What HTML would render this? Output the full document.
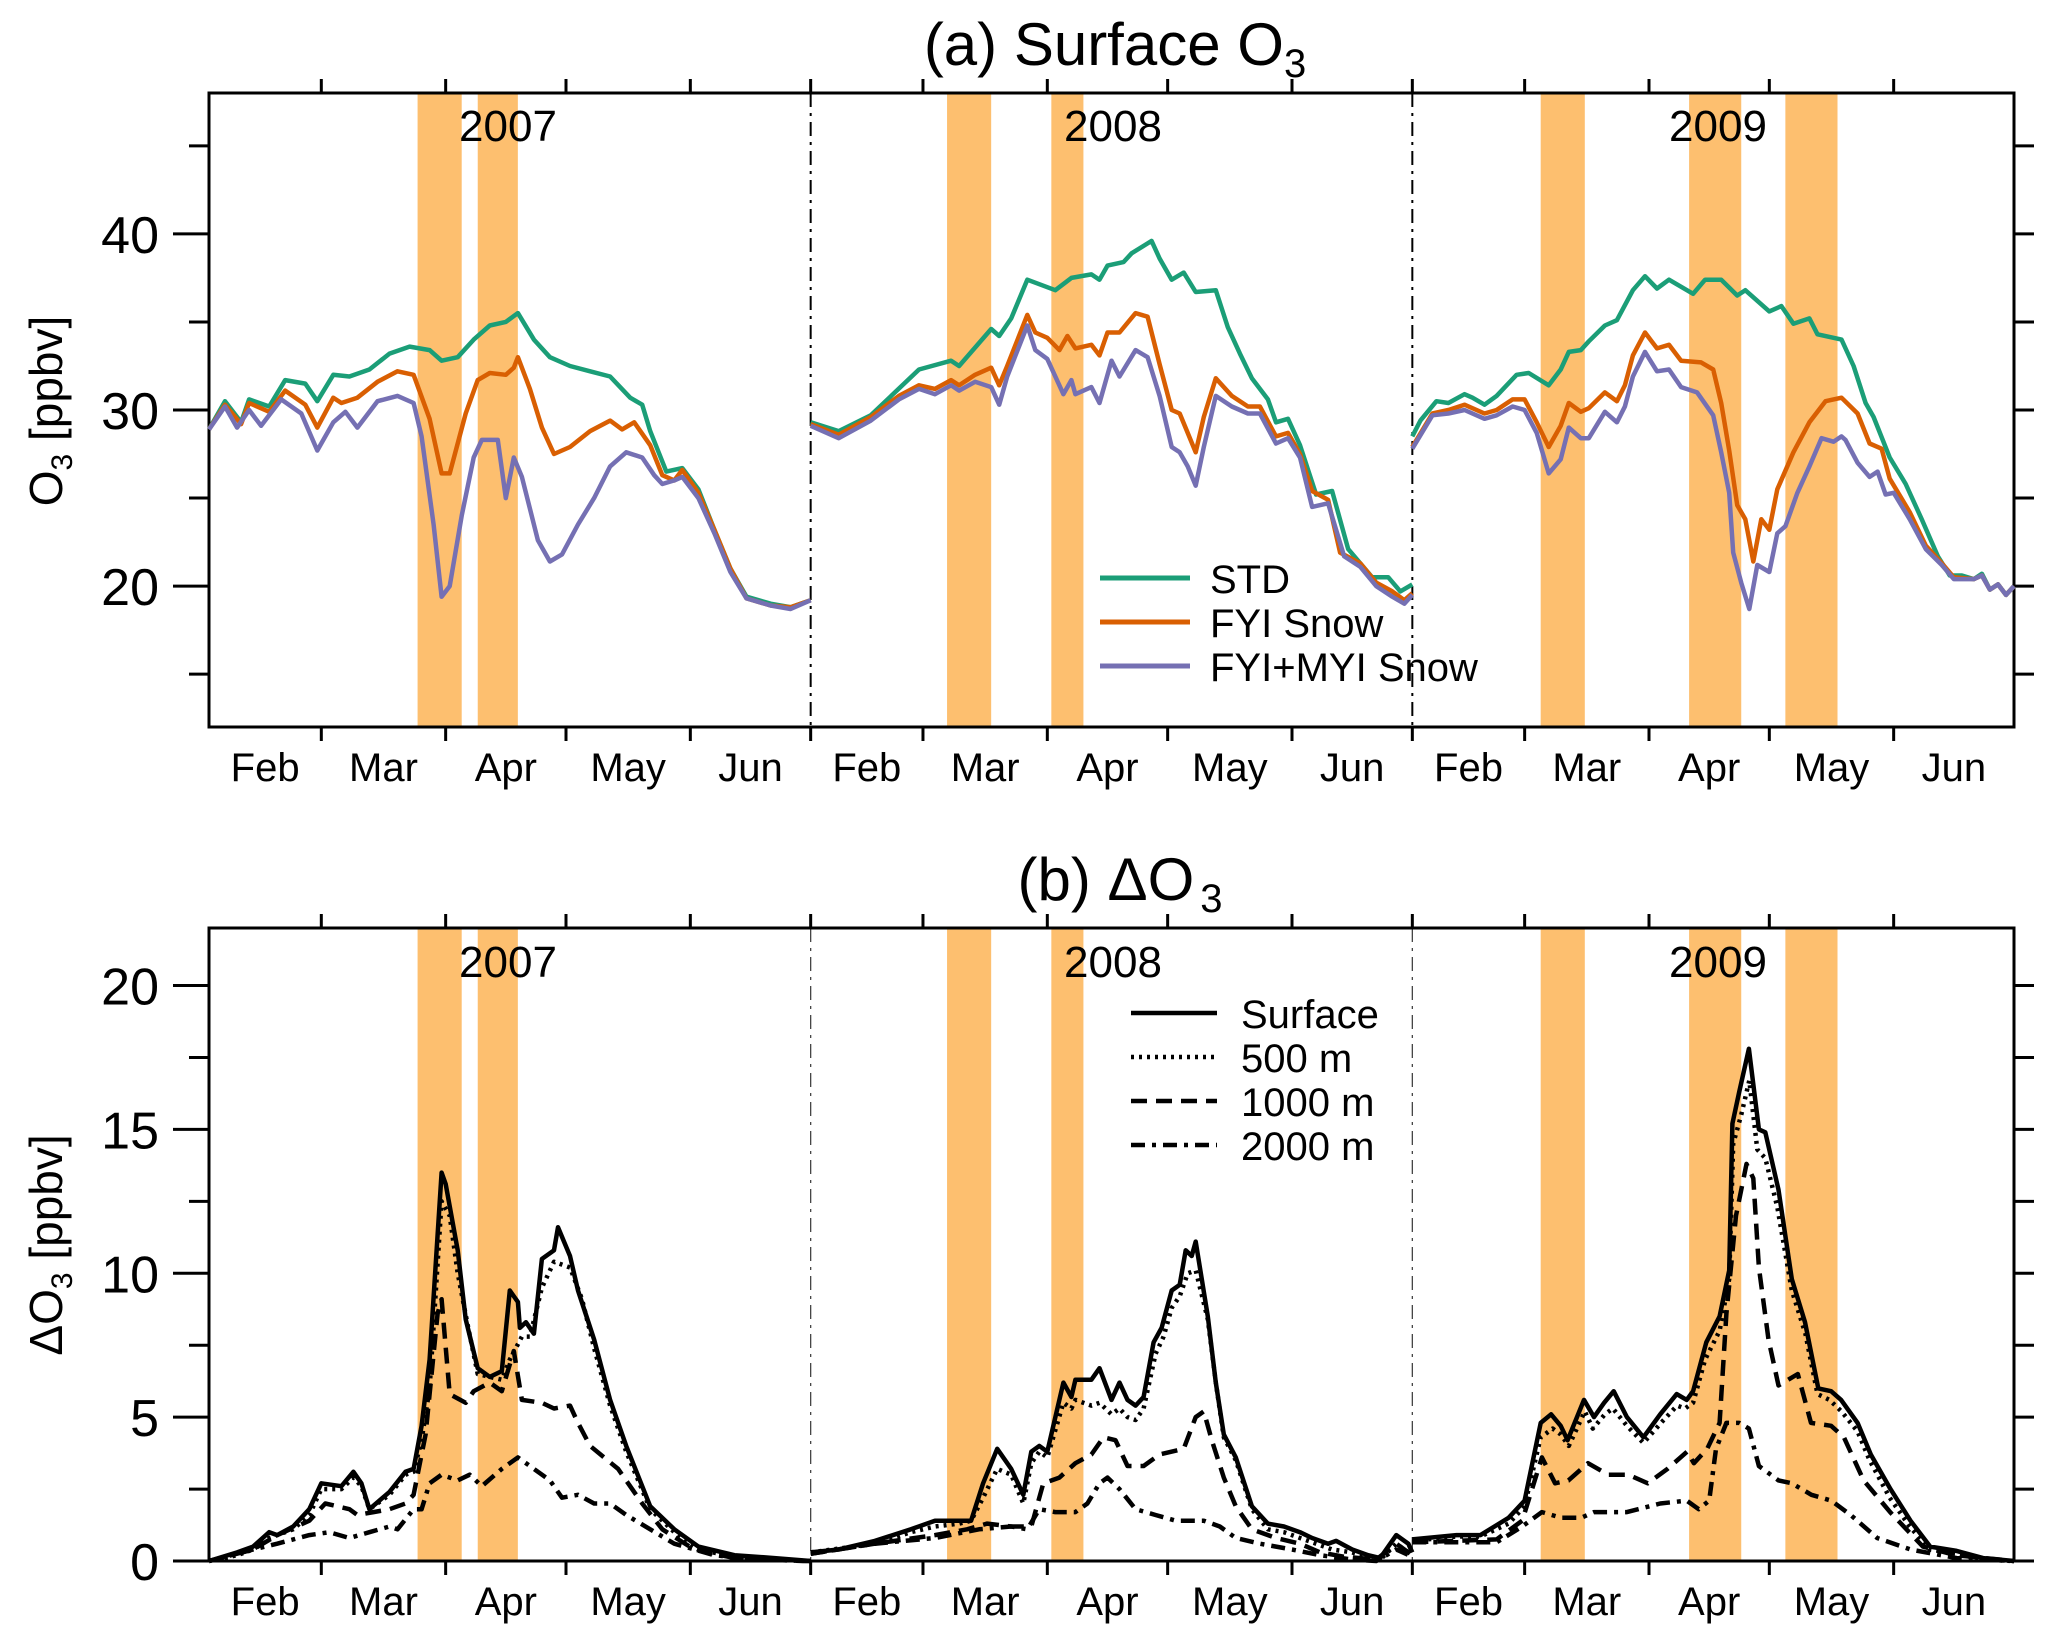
<!DOCTYPE html>
<html><head><meta charset="utf-8"><style>
body{margin:0;background:#fff}
svg{display:block;font-family:"Liberation Sans",Arial,sans-serif}
</style></head><body>
<svg id="chart" width="2067" height="1641" viewBox="0 0 2067 1641" xmlns="http://www.w3.org/2000/svg"></svg>
<script>
// ---------- data ----------
const years = ["2007","2008","2009"];
const months = ["Feb","Mar","Apr","May","Jun"];
const monthBounds = [0,28,59,89,120,150];
const bands = [[52,63],[67,77],[184,195],[210,218],[332,343],[369,382],[393,406]];
const topTicks = [20,30,40];
const topMinor = [15,25,35,45];
const botTicks = [0,5,10,15,20];
const botMinor = [2.5,7.5,12.5,17.5];

// Panel (a) — days within each year segment and O3 values
const std2007D = [0,4,8,10,15,19,24,27,31,35,40,45,50,55,58,62,66,70,74,77,81,85,90,95,100,105,108,110,114,118,122,126,130,134,140,145,150];
const std2007V = [28.9,30.5,29.3,30.6,30.2,31.7,31.5,30.5,32.0,31.9,32.3,33.2,33.6,33.4,32.8,33.0,34.0,34.8,35.0,35.5,34.0,33.0,32.5,32.2,31.9,30.7,30.3,28.8,26.5,26.7,25.5,23.2,21.0,19.4,19.0,18.8,19.2];
const fyi2007D = [0,4,8,10,15,19,24,27,31,33,37,42,47,51,55,58,60,64,67,70,74,76,77,80,83,86,90,95,100,103,106,110,113,116,118,122,126,130,134,140,145,150];
const fyi2007V = [28.9,30.3,29.2,30.4,29.9,31.1,30.3,29.0,30.7,30.4,30.7,31.6,32.2,32.0,29.5,26.4,26.4,29.8,31.7,32.1,32.0,32.4,33.0,31.2,29.0,27.5,27.9,28.8,29.4,28.9,29.3,28.0,26.3,26.0,26.6,25.3,23.2,21.0,19.3,18.9,18.8,19.2];
const myi2007D = [0,4,7,10,13,18,23,27,31,34,37,42,47,51,53,56,58,60,63,66,68,72,74,76,78,82,85,88,92,96,100,104,108,111,113,116,118,122,126,130,134,140,145,150];
const myi2007V = [28.9,30.2,29.0,30.0,29.1,30.6,29.8,27.7,29.3,29.9,29.0,30.5,30.8,30.4,28.5,23.5,19.4,20.0,24.0,27.3,28.3,28.3,25.0,27.3,26.2,22.6,21.4,21.8,23.5,25.0,26.8,27.6,27.3,26.3,25.8,26.0,26.2,25.0,23.0,20.8,19.3,18.9,18.7,19.2];

const std2008D = [0,7,15,21,27,35,37,45,47,50,54,61,65,70,72,74,78,80,85,87,90,93,96,101,104,107,110,114,116,119,122,126,130,134,140,144,147,150];
const std2008V = [29.3,28.8,29.7,31.0,32.3,32.8,32.5,34.6,34.2,35.2,37.4,36.8,37.5,37.7,37.4,38.2,38.4,38.9,39.6,38.6,37.4,37.8,36.7,36.8,34.7,33.2,31.8,30.6,29.3,29.5,28.0,25.2,25.4,22.1,20.5,20.5,19.7,20.1];
const fyi2008D = [0,7,15,22,27,31,35,37,41,45,47,49,54,56,59,62,64,66,70,72,74,77,81,84,87,90,92,94,96,98,101,105,109,112,116,119,122,125,129,132,137,141,145,148,150];
const fyi2008V = [29.2,28.6,29.6,30.8,31.4,31.2,31.7,31.4,32.0,32.4,31.4,32.5,35.4,34.4,34.1,33.4,34.2,33.5,33.7,33.1,34.4,34.4,35.5,35.3,32.6,30.0,29.8,28.7,27.6,29.6,31.8,30.8,30.2,30.2,28.5,28.7,27.5,25.4,24.9,21.9,21.3,20.2,19.7,19.2,19.6];
const myi2008D = [0,7,15,22,27,31,35,37,41,45,47,49,54,56,59,63,65,66,70,72,75,77,81,84,87,90,92,94,96,98,101,105,109,112,116,119,122,125,129,133,137,141,145,148,150];
const myi2008V = [29.1,28.4,29.4,30.6,31.2,30.9,31.4,31.1,31.6,31.3,30.3,31.9,34.8,33.4,32.9,30.9,31.7,30.9,31.3,30.4,32.8,31.9,33.4,33.0,30.8,27.9,27.6,26.8,25.7,27.9,30.8,30.2,29.8,29.8,28.1,28.4,27.3,24.5,24.7,21.7,21.1,20.0,19.4,19.0,19.5];

const std2009D = [0,2,6,9,13,15,18,21,26,29,34,37,39,42,44,48,51,55,58,61,64,70,73,77,81,83,89,92,95,99,101,105,107,110,113,115,119,123,127,131,134,137,140,142,144,146,148,150];
const std2009V = [28.5,29.4,30.5,30.4,30.9,30.7,30.3,30.8,32.0,32.1,31.4,32.3,33.3,33.4,33.9,34.8,35.1,36.8,37.6,36.9,37.4,36.6,37.4,37.4,36.5,36.8,35.6,35.9,34.9,35.2,34.3,34.1,34.0,32.5,30.4,29.6,27.3,25.8,23.8,21.7,20.6,20.6,20.4,20.7,19.8,20.1,19.5,20.0];
const fyi2009D = [0,5,9,13,18,21,25,28,31,34,37,39,42,44,48,51,53,55,58,61,64,67,72,75,77,79,81,83,85,87,89,91,95,99,103,105,107,111,114,117,119,124,128,132,135,140,142,144,146,148,150];
const fyi2009V = [27.9,29.8,30.0,30.3,29.8,30.0,30.6,30.6,29.3,27.9,29.1,30.4,29.9,30.1,31.0,30.5,31.4,33.1,34.4,33.5,33.7,32.8,32.7,32.3,30.4,27.7,24.6,23.8,21.4,23.8,23.2,25.5,27.6,29.3,30.5,30.6,30.7,29.8,28.1,27.8,26.1,24.2,22.3,21.3,20.5,20.4,20.6,19.8,20.1,19.5,20.0];
const myi2009D = [0,5,9,13,18,21,25,28,31,34,37,39,42,44,48,51,53,55,58,61,64,67,71,75,77,79,80,82,84,86,89,91,93,96,99,102,105,107,108,111,114,116,118,120,124,128,132,135,140,142,144,146,148,150];
const myi2009V = [27.8,29.7,29.8,30.0,29.5,29.7,30.2,30.0,28.7,26.4,27.2,29.0,28.4,28.4,29.9,29.3,30.2,31.9,33.3,32.2,32.3,31.3,31.0,29.7,27.6,25.3,21.9,20.2,18.7,21.2,20.8,23.0,23.4,25.3,26.8,28.4,28.2,28.5,28.3,27.0,26.2,26.5,25.2,25.3,23.8,22.1,21.2,20.4,20.4,20.6,19.8,20.1,19.5,20.0];

// Panel (b) — delta O3
const sfc2007D = [0,7,11,15,17,21,25,28,33,36,38,40,45,49,51,53,55,58,59,62,64,67,70,73,75,77,77.5,79,81,83,86,87,90,92,96,100,104,110,116,122,131,141,150];
const sfc2007V = [0,0.3,0.5,1.0,0.9,1.2,1.8,2.7,2.6,3.1,2.7,1.8,2.4,3.1,3.2,4.7,7.0,13.5,13.1,10.8,8.4,6.7,6.4,6.6,9.4,9.0,8.1,8.3,7.9,10.5,10.8,11.6,10.6,9.4,7.7,5.6,4.0,1.9,1.1,0.5,0.2,0.1,0];
const m500_2007D = [0,7,11,15,21,25,28,33,36,38,40,45,49,51,53,55,58,60,62,64.5,67,70,73,75,78,80,83,86,90,93,96,100,104,110,116,122,131,141,150];
const m500_2007V = [0,0.2,0.4,0.8,1.1,1.6,2.5,2.5,2.9,2.6,1.8,2.3,3.0,3.1,4.2,6.0,12.5,12.0,10.0,8.2,6.5,6.4,6.3,7.0,7.8,7.8,9.5,10.4,10.2,9.1,7.4,5.4,3.8,1.8,1.0,0.4,0.15,0.05,0];
const m1000_2007D = [0,11,17,25,29,35,37,41,45,49,51,54,57,58,60,64,66,70,73,76,78,83,86,90,92,95,102,108,113,121,131,148,150];
const m1000_2007V = [0,0.4,0.9,1.4,2.0,1.8,1.6,1.7,1.8,2.0,2.3,4.4,8.6,9.1,5.8,5.5,5.9,6.2,5.9,7.3,5.6,5.5,5.3,5.4,4.8,4.0,3.2,2.0,1.1,0.4,0.1,0,0];
const m2000_2007D = [0,11,17,25,30,35,40,45,47,51,53,55,58,62,65,68,73,77,81,85,88,92,96,100,104,110,116,126,136,150];
const m2000_2007V = [0,0.4,0.6,0.9,1.0,0.8,1.0,1.2,1.1,1.8,1.8,2.7,3.0,2.8,3.0,2.6,3.2,3.6,3.2,2.8,2.2,2.3,2.0,2.0,1.6,1.1,0.6,0.2,0.05,0];

const sfc2008D = [0,7,16,25,31,37,40,43,46.5,50,53,55,57,59,63,65,66,70,72,75,77,79,81,83,85.5,87.5,90,92,93.5,95,96,99,101,103,106,110,114,118,122,125,129,131,135,139,142,146,149,150];
const sfc2008V = [0.3,0.4,0.7,1.1,1.4,1.4,1.4,2.7,3.9,3.2,2.3,3.8,4.0,3.8,6.2,5.7,6.3,6.3,6.7,5.6,6.2,5.6,5.4,5.7,7.6,8.1,9.4,9.6,10.8,10.6,11.1,8.5,6.2,4.4,3.6,1.9,1.3,1.2,1.0,0.8,0.6,0.7,0.4,0.2,0.1,0.9,0.6,0.3];
const m500_2008D = [0,16,25,31,37,40,43,46.5,50,53,55,57,59,63,65,66,70,72,75,77,79,81,83,86,88,90,92,94,96,99,101,103,106,110,114,118,122,126,130,135,140,142,146,150];
const m500_2008V = [0.3,0.6,1.0,1.2,1.3,1.4,2.2,3.2,3.0,2.0,3.4,3.8,3.6,5.5,5.3,5.6,5.4,5.5,5.1,5.3,5.0,4.9,5.3,7.2,7.8,8.8,9.2,10.0,10.1,8.4,6.2,4.3,3.5,1.8,1.1,1.0,0.8,0.6,0.4,0.3,0.1,0.05,0.6,0.2];
const m1000_2008D = [0,16,31,39,44,50,55,58,62,66,70,73,76,79,83,87,93,96,98,100,103,106,110,116,122,127,133,141,146,150];
const m1000_2008V = [0.25,0.6,0.9,1.1,1.3,1.2,1.2,2.7,2.9,3.4,3.7,4.3,4.2,3.3,3.3,3.7,3.9,5.0,5.2,4.2,2.9,1.9,1.1,0.8,0.6,0.3,0.15,0.05,0.6,0.2];
const m2000_2008D = [0,16,31,42,50,54,57,61,66,69,72,74,77,81,86,91,98,102,106,112,120,127,135,141,146,150];
const m2000_2008V = [0.25,0.6,0.8,1.1,1.2,1.1,1.8,1.7,1.7,2.0,2.7,2.9,2.5,1.8,1.6,1.4,1.4,1.2,0.8,0.6,0.4,0.2,0.05,0,0.4,0.15];

const sfc2009D = [0,11,17,24,28,32,34.6,37,38.7,42.8,45.3,47.8,50.2,53.5,57.6,61.8,65.9,68.4,70,73.3,76.6,79,79.8,81.5,83.9,86.4,88,91.3,94.6,97.9,101.2,104.4,106.9,111,114.3,119.2,124.2,129.1,135.7,142.3,150];
const sfc2009V = [0.75,0.9,0.9,1.5,2.1,4.8,5.1,4.7,4.2,5.6,5.0,5.5,5.9,5.0,4.3,5.1,5.8,5.6,5.9,7.6,8.5,10.1,15.2,16.3,17.8,15.0,14.9,12.9,9.8,8.3,6.0,5.9,5.6,4.8,3.7,2.5,1.4,0.5,0.35,0.1,0];
const m500_2009D = [0,11,17,24,28,32,35,37,39,43,45,48,50,53.5,57.6,62,66,68,70,73,76.6,79,80,82,84,86,88,91,94.6,98,101,104,107,111,114,119,124,129,136,142,150];
const m500_2009V = [0.7,0.85,0.85,1.3,1.9,4.3,4.6,4.4,4.0,5.2,4.6,5.1,5.3,4.7,4.1,4.8,5.4,5.3,5.5,7.0,8.0,9.8,14.5,15.5,16.7,14.3,14.0,12.3,9.4,7.9,5.8,5.6,5.2,4.5,3.5,2.2,1.2,0.4,0.25,0.05,0];
const m1000_2009D = [0,21,27.4,32.3,35.6,38.9,43.8,48.8,53.8,58.7,63.6,68.5,70.2,73.5,76.6,78.3,80.7,83.3,85,86.4,88.8,91.3,96.1,99.4,104.4,107.6,112.5,119.1,127.3,135.5,150];
const m1000_2009V = [0.65,0.75,1.4,3.6,2.7,2.8,3.4,3.0,3.0,2.7,3.2,3.8,3.4,3.9,4.8,8.6,12.0,13.8,13.3,10.2,7.7,6.1,6.5,4.8,4.7,4.3,2.8,1.7,0.5,0.2,0];
const m2000_2009D = [0,21,27.4,32.3,37.1,42.1,45.3,53.5,61.8,68.4,71.4,74,75.7,78.3,81.5,83.9,86.4,91.3,94.6,99.5,104.4,109.3,115.9,124.2,135.7,150];
const m2000_2009V = [0.65,0.65,1.2,1.7,1.5,1.5,1.7,1.7,2.0,2.1,1.8,2.1,3.9,4.8,4.8,4.6,3.3,2.8,2.7,2.3,2.1,1.6,0.8,0.4,0.1,0];

// ---------- drawing ----------
const NS = "http://www.w3.org/2000/svg";
const svg = document.getElementById("chart");
const X0 = 209, X1 = 2014;
const xs = d => X0 + d * (X1 - X0) / 450;
const panels = {
  a: {top: 93, bot: 727, min: 12, max: 48},
  b: {top: 928, bot: 1561, min: 0, max: 22}
};
const ys = (p, v) => p.bot - (v - p.min) * (p.bot - p.top) / (p.max - p.min);

function mk(tag, attrs, parent) {
  const e = document.createElementNS(NS, tag);
  for (const k in attrs) e.setAttribute(k, attrs[k]);
  (parent || svg).appendChild(e);
  return e;
}
function txt(s, x, y, size, anchor, parent) {
  const t = mk("text", {x: x, y: y, "font-size": size, "text-anchor": anchor || "middle", fill: "#000"}, parent);
  t.textContent = s;
  return t;
}

function drawPanel(key) {
  const p = panels[key];
  const g = mk("g", {});
  
  
  bands.forEach(b => {
    const r = mk("rect", {x: xs(b[0]), y: p.top, width: xs(b[1]) - xs(b[0]), height: p.bot - p.top, fill: "#fdbf6f"}, g);
    
    
  });
  [150, 300].forEach(d => {
    const l = mk("line", {x1: xs(d), x2: xs(d), y1: p.top, y2: p.bot, stroke: key === "a" ? "#000" : "#444", "stroke-width": key === "a" ? 2 : 1.3, "stroke-dasharray": "14,6,3,6"}, g);
    
    
  });
  const fr = mk("rect", {x: X0, y: p.top, width: X1 - X0, height: p.bot - p.top, fill: "none", stroke: "#000", "stroke-width": 3}, g);
  
  
  const ticks = key === "a" ? topTicks : botTicks;
  const minor = key === "a" ? topMinor : botMinor;
  ticks.forEach(v => {
    const y = ys(p, v);
    mk("line", {x1: X0 - 36, x2: X0, y1: y, y2: y, stroke: "#000", "stroke-width": 3}, g);
    mk("line", {x1: X1, x2: X1 + 20, y1: y, y2: y, stroke: "#000", "stroke-width": 3}, g);
    const t = txt(String(v), X0 - 50, y + 19, 52, "end", g);
    
    
  });
  minor.forEach(v => {
    const y = ys(p, v);
    mk("line", {x1: X0 - 20, x2: X0, y1: y, y2: y, stroke: "#000", "stroke-width": 3}, g);
    mk("line", {x1: X1, x2: X1 + 20, y1: y, y2: y, stroke: "#000", "stroke-width": 3}, g);
  });
  for (let yi = 0; yi < 3; yi++) {
    for (let m = 1; m < monthBounds.length; m++) {
      const x = xs(yi * 150 + monthBounds[m]);
      if (!(yi === 2 && m === 5)) {
        mk("line", {x1: x, x2: x, y1: p.bot, y2: p.bot + 14, stroke: "#000", "stroke-width": 3}, g);
        mk("line", {x1: x, x2: x, y1: p.top - 14, y2: p.top, stroke: "#000", "stroke-width": 3}, g);
      }
    }
    months.forEach((mn, m) => {
      const x = xs(yi * 150 + (monthBounds[m] + monthBounds[m + 1]) / 2);
      const t = txt(mn, x, p.bot + 54, 40, "middle", g);
      
      
    });
    const yl = txt(years[yi], [508, 1113, 1718][yi], key === "a" ? 141 : 977, 44, "middle", g);
    
    
  }
}

function series(key, yi, D, V, color, width, dash, name) {
  const p = panels[key];
  let d = "";
  for (let i = 0; i < D.length; i++) d += (i ? "L" : "M") + xs(yi * 150 + D[i]).toFixed(1) + "," + ys(p, V[i]).toFixed(1);
  const path = mk("path", {d: d, fill: "none", stroke: color, "stroke-width": width, "stroke-linejoin": "round"});
  if (dash) path.setAttribute("stroke-dasharray", dash);
  
  
}

drawPanel("a");
drawPanel("b");

const cSTD = "#1b9e77", cFYI = "#d95f02", cMYI = "#7570b3";
series("a", 0, std2007D, std2007V, cSTD, 4.5, null, "std-line-2007");
series("a", 0, fyi2007D, fyi2007V, cFYI, 4.5, null, "fyi-snow-line-2007");
series("a", 0, myi2007D, myi2007V, cMYI, 4.5, null, "fyi-myi-snow-line-2007");
series("a", 1, std2008D, std2008V, cSTD, 4.5, null, "std-line-2008");
series("a", 1, fyi2008D, fyi2008V, cFYI, 4.5, null, "fyi-snow-line-2008");
series("a", 1, myi2008D, myi2008V, cMYI, 4.5, null, "fyi-myi-snow-line-2008");
series("a", 2, std2009D, std2009V, cSTD, 4.5, null, "std-line-2009");
series("a", 2, fyi2009D, fyi2009V, cFYI, 4.5, null, "fyi-snow-line-2009");
series("a", 2, myi2009D, myi2009V, cMYI, 4.5, null, "fyi-myi-snow-line-2009");

const dDot = "3,5", dDash = "16,9", dDashDot = "14,7,4,7";
series("b", 0, sfc2007D, sfc2007V, "#000", 4.5, null, "surface-line-2007");
series("b", 0, m500_2007D, m500_2007V, "#000", 4.5, dDot, "500m-line-2007");
series("b", 0, m1000_2007D, m1000_2007V, "#000", 4.5, dDash, "1000m-line-2007");
series("b", 0, m2000_2007D, m2000_2007V, "#000", 4.5, dDashDot, "2000m-line-2007");
series("b", 1, sfc2008D, sfc2008V, "#000", 4.5, null, "surface-line-2008");
series("b", 1, m500_2008D, m500_2008V, "#000", 4.5, dDot, "500m-line-2008");
series("b", 1, m1000_2008D, m1000_2008V, "#000", 4.5, dDash, "1000m-line-2008");
series("b", 1, m2000_2008D, m2000_2008V, "#000", 4.5, dDashDot, "2000m-line-2008");
series("b", 2, sfc2009D, sfc2009V, "#000", 4.5, null, "surface-line-2009");
series("b", 2, m500_2009D, m500_2009V, "#000", 4.5, dDot, "500m-line-2009");
series("b", 2, m1000_2009D, m1000_2009V, "#000", 4.5, dDash, "1000m-line-2009");
series("b", 2, m2000_2009D, m2000_2009V, "#000", 4.5, dDashDot, "2000m-line-2009");

const legA = [["STD", cSTD], ["FYI Snow", cFYI], ["FYI+MYI Snow", cMYI]];
legA.forEach((e, i) => {
  const y = 578 + i * 44;
  const l = mk("line", {x1: 1100, x2: 1190, y1: y, y2: y, stroke: e[1], "stroke-width": 5});
  
  
  const t = txt(e[0], 1210, y + 15, 40, "start");
  
  
});
const legB = [["Surface", null], ["500 m", dDot], ["1000 m", dDash], ["2000 m", dDashDot]];
legB.forEach((e, i) => {
  const y = 1013 + i * 44;
  const l = mk("line", {x1: 1131, x2: 1217, y1: y, y2: y, stroke: "#000", "stroke-width": 4.5});
  if (e[1]) l.setAttribute("stroke-dasharray", e[1]);
  
  
  const t = txt(e[0], 1241, y + 15, 40, "start");
  
  
});
</script>
<script>
(function(){
  const NS = "http://www.w3.org/2000/svg";
  const svg = document.getElementById("chart");
  function add(html){ const g = document.createElementNS(NS,"g"); g.innerHTML = html; svg.appendChild(g); }
  add('<text x="1115" y="65" font-size="60" text-anchor="middle">(a) Surface O<tspan font-size="40" dy="12">3</tspan></text>');
  add('<text x="1120" y="900" font-size="60" text-anchor="middle">(b) ΔO<tspan font-size="40" dy="12" dx="6">3</tspan></text>');
  add('<text transform="translate(62,411) rotate(-90)" font-size="46" text-anchor="middle">O<tspan font-size="30" dy="10">3</tspan><tspan dy="-10"> [ppbv]</tspan></text>');
  add('<text transform="translate(62,1245) rotate(-90)" font-size="46" text-anchor="middle">ΔO<tspan font-size="30" dy="10">3</tspan><tspan dy="-10"> [ppbv]</tspan></text>');
})();
</script>
</body></html>
